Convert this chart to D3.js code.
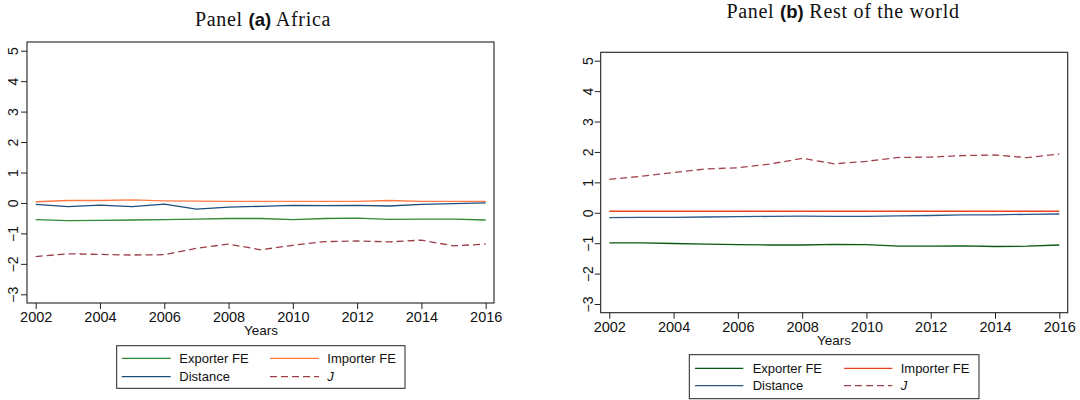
<!DOCTYPE html>
<html><head><meta charset="utf-8">
<script src="https://cdn.jsdelivr.net/npm/d3@7"></script>
<style>body{margin:0;background:#fff}svg{display:block}</style>
</head><body>
<svg id="c" width="1080" height="400"></svg>
<script>
const years = [2002,2003,2004,2005,2006,2007,2008,2009,2010,2011,2012,2013,2014,2015,2016];
const xTicks = [2002,2004,2006,2008,2010,2012,2014,2016];
const yTicks = [-3,-2,-1,0,1,2,3,4,5];
const seriesNames = ["Exporter FE","Importer FE","Distance","J"];

// Panel (a) Africa
const africaExporter = [-0.55,-0.58,-0.57,-0.56,-0.55,-0.53,-0.51,-0.51,-0.55,-0.51,-0.50,-0.54,-0.53,-0.53,-0.56];
const africaImporter = [0.04,0.08,0.08,0.10,0.07,0.06,0.05,0.05,0.05,0.05,0.05,0.08,0.05,0.05,0.05];
const africaDistance = [-0.05,-0.12,-0.07,-0.12,-0.04,-0.20,-0.14,-0.11,-0.08,-0.09,-0.08,-0.10,-0.05,-0.02,0.00];
const africaJ = [-1.76,-1.67,-1.69,-1.71,-1.70,-1.49,-1.35,-1.54,-1.39,-1.27,-1.25,-1.28,-1.22,-1.41,-1.35];

// Panel (b) Rest of the world
const rowExporter = [-0.99,-0.99,-1.01,-1.03,-1.05,-1.06,-1.06,-1.04,-1.05,-1.10,-1.10,-1.09,-1.11,-1.10,-1.06];
const rowImporter = [0.05,0.05,0.05,0.05,0.05,0.05,0.05,0.05,0.05,0.05,0.05,0.05,0.05,0.05,0.05];
const rowDistance = [-0.16,-0.15,-0.15,-0.14,-0.13,-0.12,-0.11,-0.12,-0.12,-0.10,-0.09,-0.07,-0.07,-0.05,-0.04];
const rowJ = [1.10,1.20,1.32,1.44,1.48,1.60,1.79,1.61,1.69,1.82,1.83,1.88,1.90,1.81,1.93];

const svg = d3.select("#c");
const sans = "'Liberation Sans', Arial, sans-serif";
const serif = "'Liberation Serif', 'Times New Roman', serif";

function panel(cfg) {
  const g = svg.append("g");
  const x = d3.scaleLinear().domain([2002,2016]).range([cfg.x0, cfg.x1]);
  const y = d3.scaleLinear().domain([-3,5]).range([cfg.yM3, cfg.y5]);

  // title
  const t = g.append("text").attr("x", cfg.titleX).attr("y", cfg.titleY)
    .attr("text-anchor","middle").attr("font-family", serif).attr("font-size", 20).attr("fill","#111");
  t.append("tspan").attr("letter-spacing", 0.7).text("Panel ");
  t.append("tspan").attr("font-family", sans).attr("font-weight","bold").attr("font-size",18.5).text(cfg.letter);
  t.append("tspan").attr("letter-spacing", 0.7).text(" " + cfg.region);

  // frame
  g.append("rect").attr("x", cfg.fl).attr("y", cfg.ft).attr("width", cfg.fr - cfg.fl).attr("height", cfg.fb - cfg.ft)
    .attr("fill","none").attr("stroke","#222").attr("stroke-width",1.1);

  // y axis
  const ya = g.append("g").attr("transform", `translate(${cfg.fl},0)`)
    .call(d3.axisLeft(y).tickValues(yTicks).tickSize(6).tickPadding(4).tickFormat(d => d < 0 ? "\u2212" + Math.abs(d) : d));
  ya.select(".domain").remove();
  ya.selectAll(".tick line").attr("stroke","#222");
  ya.selectAll(".tick text").attr("font-family", sans).attr("font-size", 14).attr("fill","#111")
    .attr("text-anchor","middle").attr("x", 0).attr("y", 0)
    .attr("transform", `translate(${-cfg.ylabOff},0) rotate(-90)`).attr("dy","0.35em");

  // x axis
  const xa = g.append("g").attr("transform", `translate(0,${cfg.fb})`)
    .call(d3.axisBottom(x).tickValues(xTicks).tickSize(6).tickPadding(3).tickFormat(d3.format("d")));
  xa.select(".domain").remove();
  xa.selectAll(".tick line").attr("stroke","#222");
  xa.selectAll(".tick text").attr("font-family", sans).attr("font-size", 14.5).attr("fill","#111");

  g.append("text").attr("x", cfg.yearsX).attr("y", cfg.yearsY).attr("text-anchor","middle")
    .attr("font-family", sans).attr("font-size", 13.5).attr("fill","#111").text("Years");

  const line = d3.line().x((d,i) => x(years[i])).y(d => y(d));
  cfg.series.forEach(s => {
    g.append("path").datum(s.values).attr("d", line).attr("fill","none")
      .attr("stroke", s.color).attr("stroke-width", 1.3)
      .attr("stroke-dasharray", s.dash ? "7,4" : null);
  });

  // legend
  const L = cfg.legend;
  g.append("rect").attr("x", L.x0).attr("y", L.y0).attr("width", L.x1 - L.x0).attr("height", L.y1 - L.y0)
    .attr("fill","#fff").attr("stroke","#222").attr("stroke-width",1);
  [0,1,2,3].forEach(k => {
    const s = cfg.series[k];
    const col = k % 2, row = Math.floor(k / 2);
    const ly = L.rows[row];
    g.append("line").attr("x1", L.cols[col][0]).attr("x2", L.cols[col][1]).attr("y1", ly).attr("y2", ly)
      .attr("stroke", s.color).attr("stroke-width", 1.3).attr("stroke-dasharray", s.dash ? "7,4" : null);
    const tx = g.append("text").attr("x", L.cols[col][2]).attr("y", ly).attr("dy","0.35em")
      .attr("font-family", sans).attr("font-size", 13).attr("fill","#111").text(s.name);
    if (s.dash) tx.attr("font-style","italic");
  });
}

panel({
  letter: "(a)", region: "Africa", titleX: 263, titleY: 26,
  fl: 27, fr: 494, ft: 42, fb: 303,
  x0: 35.7, x1: 485.7, y5: 50.7, yM3: 294.3, ylabOff: 14,
  yearsX: 261, yearsY: 335,
  series: [
    {name: seriesNames[0], values: africaExporter, color: "#2f8a30"},
    {name: seriesNames[1], values: africaImporter, color: "#ff7a45"},
    {name: seriesNames[2], values: africaDistance, color: "#1f4d7a"},
    {name: seriesNames[3], values: africaJ, color: "#9a3d47", dash: true}
  ],
  legend: {x0: 116.7, x1: 405, y0: 345.7, y1: 388.3, rows: [358.3, 376.7],
           cols: [[121.7,170.7,179.3],[270,319,327.3]]}
});

panel({
  letter: "(b)", region: "Rest of the world", titleX: 843, titleY: 18,
  fl: 600.7, fr: 1067.7, ft: 52.3, fb: 312.7,
  x0: 609.3, x1: 1059.3, y5: 60.7, yM3: 304, ylabOff: 12.5,
  yearsX: 834, yearsY: 345,
  series: [
    {name: seriesNames[0], values: rowExporter, color: "#0b5a12"},
    {name: seriesNames[1], values: rowImporter, color: "#e8431e"},
    {name: seriesNames[2], values: rowDistance, color: "#2b5a8a"},
    {name: seriesNames[3], values: rowJ, color: "#a3434c", dash: true}
  ],
  legend: {x0: 689.3, x1: 979, y0: 354.7, y1: 398.7, rows: [368.3, 385.7],
           cols: [[695,743.3,752.7],[844,892.3,900.7]]}
});
</script>
</body></html>
